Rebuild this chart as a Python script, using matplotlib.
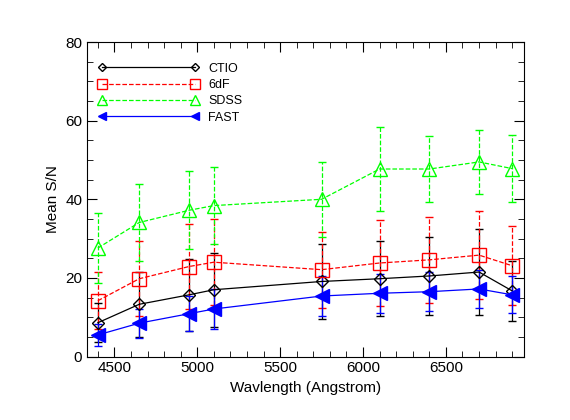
import matplotlib
matplotlib.use("Agg")
import matplotlib.pyplot as plt
from matplotlib.ticker import MultipleLocator
from matplotlib.lines import Line2D

plt.rcParams['font.family'] = ['Liberation Sans', 'DejaVu Sans']

wave = [4400, 4650, 4950, 5100, 5750, 6100, 6400, 6700, 6900]
ctio = [8.6, 13.3, 15.7, 17.0, 19.1, 19.8, 20.5, 21.5, 16.7]
ctio_err = [5.0, 8.2, 9.1, 9.4, 9.6, 9.6, 10.0, 10.9, 7.6]
sixdf = [14.2, 19.8, 22.9, 24.0, 22.1, 23.8, 24.6, 25.8, 23.1]
sixdf_err = [7.3, 9.6, 10.8, 11.0, 9.7, 10.9, 10.9, 11.1, 10.0]
sdss = [27.6, 34.1, 37.2, 38.4, 40.0, 47.7, 47.7, 49.5, 47.8]
sdss_err = [9.0, 9.8, 9.9, 9.7, 9.5, 10.7, 8.3, 8.1, 8.5]
fast = [5.5, 8.5, 10.9, 12.1, 15.4, 16.1, 16.5, 17.2, 15.7]
fast_err = [2.8, 3.7, 4.5, 5.0, 5.2, 4.9, 4.9, 4.9, 4.7]

fig = plt.figure(figsize=(5.7, 4.2), dpi=100)
ax = fig.add_axes([0.153, 0.151, 0.766, 0.749])

styles = [
    (ctio, ctio_err, 'black', '-', 'D', 6.5, 'none', 'CTIO'),
    (sixdf, sixdf_err, 'red', '--', 's', 10, 'none', '6dF'),
    (sdss, sdss_err, '#00ff00', '--', '^', 10.5, 'none', 'SDSS'),
    (fast, fast_err, 'blue', '-', '<', 9.5, 'blue', 'FAST'),
]
handles = []
for vals, errs, c, ls, m, ms, mfc, lab in styles:
    cont = ax.errorbar(wave, vals, yerr=errs, color=c, ls=ls, lw=0.9,
                       marker=m, ms=ms, mfc=mfc, mec=c, capsize=3, elinewidth=0.9)
    for lc in cont[2]:
        lc.set_linestyle(ls)
    handles.append(Line2D([0], [0], color=c, ls=ls, lw=0.9, marker=m,
                          ms=ms * 0.65, mfc=mfc, mec=c, label=lab))

ax.set_xlim(4336, 6970)
ax.set_ylim(0, 80)
ax.xaxis.set_major_locator(MultipleLocator(500))
ax.xaxis.set_minor_locator(MultipleLocator(100))
ax.yaxis.set_major_locator(MultipleLocator(20))
ax.yaxis.set_minor_locator(MultipleLocator(5))
ax.tick_params(which='both', direction='in', top=True, right=True, labelsize=11)
ax.tick_params(which='major', length=7)
ax.tick_params(which='minor', length=4)
ax.set_xlabel('Wavlength (Angstrom)', fontsize=11)
ax.set_ylabel('Mean S/N', fontsize=11)

ax.legend(handles=handles, loc='upper left', frameon=False, numpoints=2, handlelength=8,
          fontsize=9, bbox_to_anchor=(0.0, 0.97), labelspacing=0.35)

fig.savefig('out.png', dpi=100)
